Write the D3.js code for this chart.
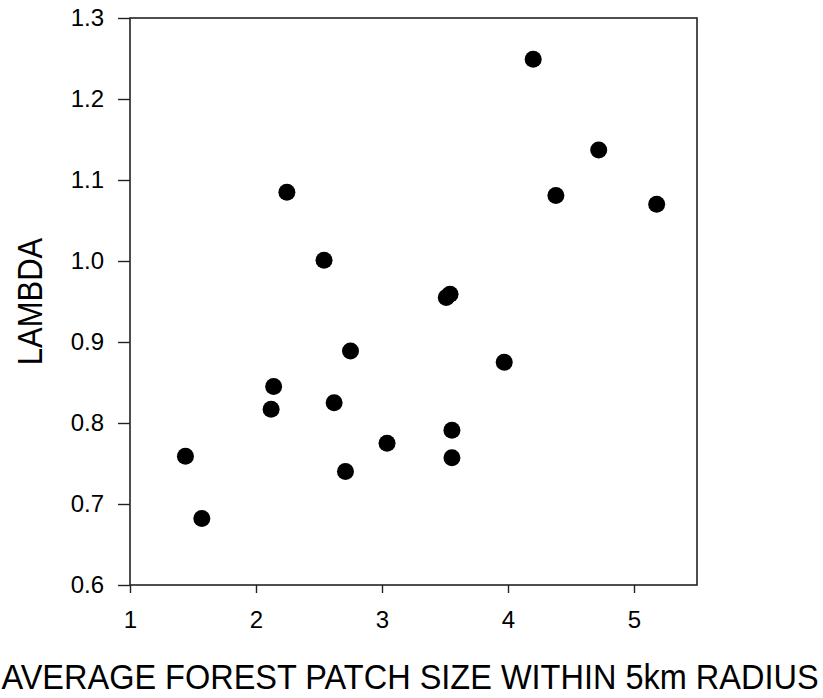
<!DOCTYPE html>
<html>
<head>
<meta charset="utf-8">
<script src="https://cdn.jsdelivr.net/npm/d3@7"></script>
<style>
    body { margin: 0; background: #fff; }
    svg { display: block; font-family: "Liberation Sans", Arial, sans-serif; }
</style>
</head>
<body>
<svg id="chart" width="823" height="698"></svg>
<script>
// patch size (km) vs. lambda, one entry per site
var patchSize = [1.44, 1.57, 2.14, 2.12, 2.245, 2.54, 2.62, 2.71, 2.75, 3.04,
                 3.51, 3.54, 3.555, 3.555, 3.97, 4.20, 4.38, 4.72, 5.18];
var lambda = [0.759, 0.682, 0.845, 0.817, 1.085, 1.001, 0.825, 0.740, 0.889, 0.775,
              0.955, 0.959, 0.791, 0.757, 0.875, 1.249, 1.081, 1.137, 1.070];

var xTicks = [1, 2, 3, 4, 5];
var yTicks = [0.6, 0.7, 0.8, 0.9, 1.0, 1.1, 1.2, 1.3];

var xTitle = "AVERAGE FOREST PATCH SIZE WITHIN 5km RADIUS";
var yTitle = "LAMBDA";

var margin = {left: 130, top: 18, right: 697, bottom: 585};

var svg = d3.select("#chart");

var x = d3.scaleLinear().domain([1, 5.5]).range([margin.left, margin.right]);
var y = d3.scaleLinear().domain([0.6, 1.3]).range([margin.bottom, margin.top]);

var xAxis = d3.axisBottom(x)
    .tickValues(xTicks)
    .tickFormat(d3.format("d"))
    .tickSizeInner(8)
    .tickSizeOuter(0)
    .tickPadding(18);

var yAxis = d3.axisLeft(y)
    .tickValues(yTicks)
    .tickFormat(d3.format(".1f"))
    .tickSizeInner(12)
    .tickSizeOuter(0)
    .tickPadding(14);

// frame around the plot area
svg.append("rect")
    .attr("x", margin.left)
    .attr("y", margin.top)
    .attr("width", margin.right - margin.left)
    .attr("height", margin.bottom - margin.top)
    .attr("fill", "none")
    .attr("stroke", "#222")
    .attr("stroke-width", 1.6);

var gx = svg.append("g")
    .attr("transform", "translate(0," + margin.bottom + ")")
    .call(xAxis);

var gy = svg.append("g")
    .attr("transform", "translate(" + margin.left + ",0)")
    .call(yAxis);

[gx, gy].forEach(function(g) {
    g.select(".domain").remove();
    g.selectAll(".tick line").attr("stroke", "#222").attr("stroke-width", 1.4);
    g.selectAll(".tick text")
        .attr("fill", "#000")
        .style("font-size", "24px")
        .style("font-family", "'Liberation Sans', Arial, sans-serif");
});

svg.append("g")
    .selectAll("circle")
    .data(d3.zip(patchSize, lambda))
    .join("circle")
    .attr("cx", function(d) { return x(d[0]); })
    .attr("cy", function(d) { return y(d[1]); })
    .attr("r", 8.5)
    .attr("fill", "#000");

// axis titles are set in a slightly tall face
svg.append("text")
    .attr("transform", "translate(410,689) scale(1,1.1)")
    .attr("text-anchor", "middle")
    .style("font-size", "32.5px")
    .text(xTitle);

svg.append("text")
    .attr("transform", "translate(42," + ((margin.top + margin.bottom) / 2) + ") rotate(-90) scale(1,1.15)")
    .attr("text-anchor", "middle")
    .style("font-size", "31px")
    .text(yTitle);
</script>
</body>
</html>
